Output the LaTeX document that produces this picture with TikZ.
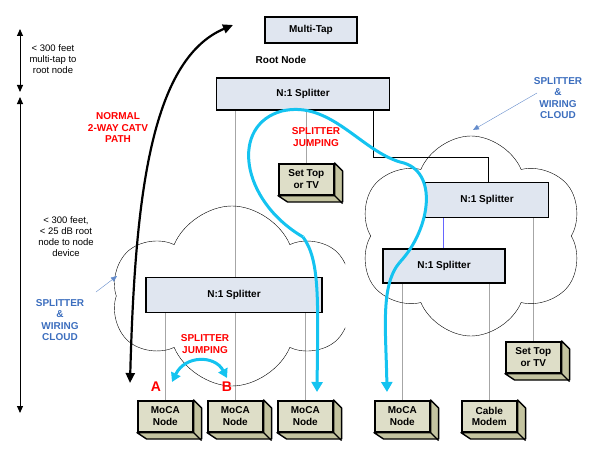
\documentclass[tikz,border=0pt]{standalone}
\usepackage{fontspec}
\setmainfont{Liberation Sans}
\usetikzlibrary{positioning,shapes.symbols,arrows.meta,backgrounds}
\definecolor{boxfill}{RGB}{224,230,240}
\definecolor{devfill}{RGB}{222,222,200}
\definecolor{devside}{RGB}{196,196,160}
\definecolor{jump}{RGB}{20,195,240}
\definecolor{cloudblue}{RGB}{60,110,190}
\newcommand{\devbox}[4]{%
  \node[dev] (#1) at (#2,#3) {#4};
  \draw[line width=1.4pt,fill=devside,line join=round]
    (#1.north east) -- ++(8,8) -- ++(0,31) -- ++(-55,0) -- (#1.south west) -- (#1.south east) -- cycle;
  \draw[line width=1.2pt] (#1.south east) -- ++(8,8);
}
\begin{document}
\begin{tikzpicture}[x=1pt,y=-1pt,
    font=\bfseries\fontsize{10}{11.5}\selectfont,
    split/.style={draw,line width=1.8pt,fill=boxfill,inner sep=0pt},
    dev/.style={draw,line width=1.6pt,fill=devfill,minimum width=55pt,minimum height=31pt,inner sep=1pt,align=center,anchor=north west},
    wire/.style={gray!70,line width=0.8pt},
    redtxt/.style={red,align=center},
    bluetxt/.style={cloudblue,align=center},
    jumparrow/.style={jump,line width=3pt,-{Triangle[length=10pt,width=11pt]}},
    puff/.style={cloud,draw,thin,cloud puffs=6,cloud puff arc=135}]
\useasboundingbox (0,0) rectangle (600,460);

% clouds
\node[puff,minimum width=225pt,minimum height=200pt] (rcloud) at (471,236) {};
\begin{scope}
  \clip (100,200) rectangle (345,400);
  \node[puff,minimum width=240pt,minimum height=180pt] (lcloud) at (232,296) {};
\end{scope}

% splitters
\node[split,minimum width=92pt,minimum height=26pt] (tap) at (311,30) {Multi-Tap};
\node at (281,60) {Root Node};
\node[split,minimum width=173pt,minimum height=32pt] (root) at (303,94) {N:1 Splitter};
\node[split,minimum width=176pt,minimum height=35pt] (lsp) at (234,295) {N:1 Splitter};
\node[split,minimum width=123pt,minimum height=35pt] (usp) at (487,200) {N:1 Splitter};
\node[split,minimum width=122pt,minimum height=34pt] (dsp) at (444,266) {N:1 Splitter};

% devices
\devbox{stop}{278}{163}{Set Top\\or TV}
\devbox{a}{137}{400}{MoCA\\Node}
\devbox{b}{207}{400}{MoCA\\Node}
\devbox{c}{277}{400}{MoCA\\Node}
\devbox{d}{374}{400}{MoCA\\Node}
\devbox{modem}{461}{400}{Cable\\Modem}
\devbox{stop2}{505}{341}{Set Top\\or TV}

% wiring
\begin{pgfonlayer}{background}
\draw[wire] (b.north |- root.south) -- (b.north);
\draw[wire] (a.north |- lsp.south) -- (a.north);
\draw[wire] (c.north |- lsp.south) -- (c.north);
\draw[wire] (stop.north |- root.south) -- (stop.north);
\draw[line width=0.8pt] (373,110) -- (373,157) -| (usp.north -| 488,0);
\draw[blue!60,line width=0.8pt] (443,218) -- (dsp.north -| 443,0);
\draw[wire] (stop2.north |- usp.south) -- (stop2.north);
\draw[wire] (402,283) -- (d.north -| 402,0);
\draw[wire] (modem.north |- dsp.south) -- (modem.north);
\end{pgfonlayer}

% distance notes
\draw[{Triangle[length=7pt,width=6pt]}-{Triangle[length=7pt,width=6pt]},line width=1pt] (20,29) -- (20,92);
\node[align=center,font=\fontsize{9.5}{11}\selectfont] (note1) at (53,59) {< 300 feet\\multi-tap to\\root node};
\draw[{Triangle[length=7pt,width=6pt]}-{Triangle[length=7pt,width=6pt]},line width=1pt] (20,97) -- (20,413);
\node[align=center,font=\fontsize{9.5}{11}\selectfont] (note2) at (66,237) {< 300 feet,\\< 25 dB root\\node to node\\device};

% labels
\node[bluetxt] (lbl1) at (60,320) {SPLITTER\\\&\\WIRING\\CLOUD};
\draw[cloudblue!80,-{Triangle[length=6pt,width=5pt]}] (96,292) -- (117,276);
\node[bluetxt] (lbl2) at (558,98) {SPLITTER\\\&\\WIRING\\CLOUD};
\draw[cloudblue!80,-{Triangle[length=6pt,width=5pt]}] (537,93) -- (473,130);
\node[redtxt] (catv) at (118,128) {NORMAL\\2-WAY CATV\\PATH};
\node[redtxt] (jmp1) at (316,137) {SPLITTER\\JUMPING};
\node[redtxt] (jmp2) at (205,344) {SPLITTER\\JUMPING};
\node[red,font=\bfseries\fontsize{14}{15}\selectfont] at (156,387) {A};
\node[red,font=\bfseries\fontsize{14}{15}\selectfont] at (227,387) {B};

% paths
\draw[line width=2.2pt,{Triangle[length=10pt,width=9pt]}-{Triangle[length=10pt,width=9pt]}]
  (130,383) .. controls (135,200) and (150,60) .. (233,25);
\draw[jumparrow] (303,237) .. controls (320,260) and (318,300) .. (317,392);
\draw[jump,line width=3pt]
  (303,237) .. controls (240,200) and (230,125) .. (282,111)
  .. controls (330,100) and (360,150) .. (400,162)
  .. controls (440,170) and (430,230) .. (400,262);
\draw[jumparrow] (400,262) .. controls (380,285) and (386,330) .. (387,392);
\draw[jump,line width=3pt,{Triangle[length=9pt,width=10pt]}-{Triangle[length=9pt,width=10pt]}]
  (172,382) .. controls (185,355) and (215,355) .. (227,378);
\end{tikzpicture}
\end{document}
